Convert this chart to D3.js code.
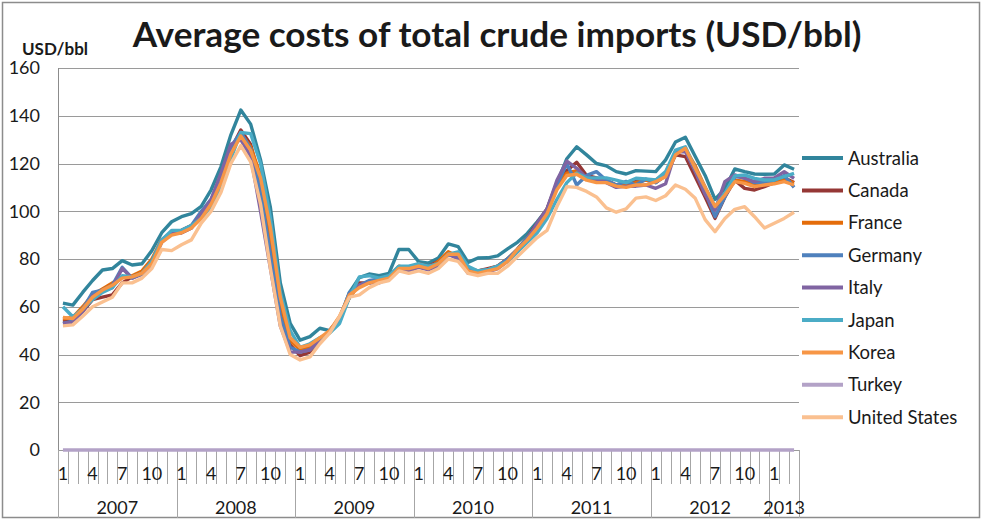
<!DOCTYPE html>
<html lang="en">
<head>
  <title>Average costs of total crude imports</title>
  <script src="https://d3js.org/d3.v7.min.js"></script>
  <style>
    body { margin: 0; background: #fff; }
    text { font-family: Lato, "Open Sans", sans-serif; fill: #1a1a1a; }
  </style>
</head>
<body>
<div id="chart"></div>
<script>
// months Jan 2007 .. Mar 2013
const years = ["2007", "2008", "2009", "2010", "2011", "2012", "2013"];
const monthsPerYear = [12, 12, 12, 12, 12, 12, 3];
const monthLabels = ["1", "4", "7", "10"];
const yTicks = [0, 20, 40, 60, 80, 100, 120, 140, 160];

const countries = ["Australia", "Canada", "France", "Germany", "Italy", "Japan", "Korea", "Turkey", "United States"];
const colors = ["#31859c", "#953735", "#e46c0a", "#4f81bd", "#8064a2", "#4bacc6", "#f79646", "#b3a2c7", "#fac090"];

const australia = [
  61.5, 60.7, 66, 71, 75.4, 76, 79.3, 77.5, 78, 83.5, 91, 95.6,
  97.7, 99, 102, 109, 118.7, 132, 142.4, 136.5, 121.5, 101.5, 70, 53,
  46, 47.5, 51, 50, 55, 66, 72.2, 73.7, 73, 74, 84, 84,
  78.9, 78.3, 80.4, 86.3, 85.2, 78.6, 80.4, 80.5, 81.3, 84.2, 87, 90.7,
  95.6, 100.8, 111.7, 122, 127, 123.6, 120, 119, 116.6, 115.6, 117, 116.8,
  116.6, 121.5, 129, 131, 122.9, 115, 105, 109.5, 117.7, 116.6, 115.6, 115.5,
  115.6, 119.4, 117.6];
const canada = [
  54, 54.5, 58, 63, 64, 65, 70, 72.5, 74, 79, 88, 91,
  91, 93, 98, 104, 114, 126, 134, 128, 112, 85, 58, 44,
  39.5, 41, 46, 50, 55, 64, 70, 70, 71, 73, 76, 76,
  78, 77, 79, 82, 81, 75, 75, 76, 77, 80, 84, 89,
  95, 101, 112, 117, 120.5, 115, 114, 113, 111, 112, 113, 113,
  112, 115, 123.6, 122.9, 114.5, 106, 97, 106, 113, 109.6, 108.9, 110.3,
  112, 114, 112];
const france = [
  55, 55.5, 60, 65, 67.5, 70, 72.5, 73, 75, 80, 88, 90.5,
  92, 94, 98, 104, 113, 125, 132.5, 127, 115, 90, 61, 46,
  42, 43, 46, 50, 55, 64, 69, 70, 71, 72.5, 77, 76,
  77.5, 76, 79, 83, 81, 76, 75, 75.5, 77, 80, 84, 89,
  94, 100, 111, 116, 117, 114, 113, 112.5, 111, 111, 112, 113,
  113, 116, 124.5, 126, 119, 110, 101, 107, 113, 112.5, 111, 111.5,
  112, 113, 112];
const germany = [
  53, 54, 59, 66, 67, 69, 76.5, 72, 74, 79, 88, 91,
  92, 94, 100, 105, 115, 127, 133, 126, 108, 82, 56, 43,
  41, 42, 46, 50, 55, 66, 69, 71, 71.5, 73, 76, 76,
  77, 76, 78, 82, 81, 76, 75, 75.5, 77, 80, 84, 89,
  94, 100, 111, 120, 111, 115, 116.6, 113, 111, 112.5, 111, 113.5,
  112, 115, 124.3, 126, 117, 108, 97.7, 106, 114.5, 114, 112, 112,
  113, 115, 110];
const italy = [
  53, 53.5, 58, 64.5, 66.5, 68, 76, 72, 73.5, 78, 87, 90.5,
  91, 93, 99, 105, 116, 128, 130, 123, 100, 76, 52, 41,
  41, 42, 46, 50, 55, 65, 69, 70, 70, 72, 75.5, 75,
  76.5, 75.5, 77, 82, 80, 74, 74, 74.5, 76, 79, 83, 88,
  95, 101, 113, 121, 118, 114, 113.5, 112, 110, 110.5, 110.5, 111,
  109.6, 111.5, 124.9, 125, 116.6, 107, 100.5, 112.4, 115.2, 113.8, 112.4, 113.8,
  114, 116.6, 113.8];
const japan = [
  60, 55.8, 59, 63, 66, 68, 73, 72.5, 74, 79, 88, 92,
  92, 94, 97, 102, 110, 122, 133, 132.5, 120, 97, 66, 50,
  43, 44.5, 47, 49, 53, 64, 72.5, 73, 72, 73, 77, 77,
  78, 77, 78, 82, 83, 77, 75, 75.5, 77, 79, 83, 87,
  91, 97, 105, 112, 116, 114, 114, 114, 113, 112, 113.8, 113.5,
  113.1, 116.6, 125.6, 127, 118, 110, 102, 107.5, 114.8, 115.2, 113.8, 113.1,
  113.1, 114.5, 115.9];
const korea = [
  55.5, 55.1, 59, 64, 67, 69, 72, 72.5, 74, 78, 87, 90,
  91, 93, 97, 103, 112, 124, 131.5, 125.5, 114, 93, 64, 47,
  43, 44, 47, 50, 56, 65, 68, 70, 71, 72, 76, 76,
  77, 76, 78, 82, 82, 75, 74, 75, 76, 79, 84, 88,
  93, 99, 109, 115, 115.5, 113, 112, 112, 110.5, 110, 111, 111,
  112.4, 114.5, 123.6, 126.4, 118, 110, 102, 106.8, 112.4, 111.7, 110.3, 111,
  111.5, 112.4, 111];
const turkey = [
  0, 0, 0, 0, 0, 0, 0, 0, 0, 0, 0, 0,
  0, 0, 0, 0, 0, 0, 0, 0, 0, 0, 0, 0,
  0, 0, 0, 0, 0, 0, 0, 0, 0, 0, 0, 0,
  0, 0, 0, 0, 0, 0, 0, 0, 0, 0, 0, 0,
  0, 0, 0, 0, 0, 0, 0, 0, 0, 0, 0, 0,
  0, 0, 0, 0, 0, 0, 0, 0, 0, 0, 0, 0,
  0, 0, 0];
const unitedStates = [
  52, 52.4, 56, 60, 62, 64, 70, 70, 72, 76, 84, 83.5,
  86, 88, 95, 100, 108, 120, 127.5, 120.7, 103, 76, 52, 40,
  37.7, 39, 44.5, 49, 56, 64, 65, 68, 70, 71, 75, 74,
  75, 74, 76, 80, 79, 74, 73, 74, 74, 77, 81, 85,
  89, 92, 102, 110.3, 110, 108.3, 106, 101.4, 99.6, 101, 105.5, 106,
  104.5, 106.5, 111, 109.2, 105.4, 96.5, 91.4, 97, 100.8, 101.9, 97.7, 93,
  95, 97, 99.6];

const seriesValues = [australia, canada, france, germany, italy, japan, korea, turkey, unitedStates];

// build month keys
const months = [];
years.forEach((yr, yi) => {
  for (let m = 1; m <= monthsPerYear[yi]; m++) months.push({year: yr, month: m, key: yr + "-" + m});
});

const W = 982, H = 519;
const margin = {top: 68, right: 183, bottom: 69, left: 58};
const width = W - margin.left - margin.right;
const height = H - margin.top - margin.bottom;

const svg = d3.select("#chart").append("svg")
  .attr("width", W).attr("height", H);

// outer frame
svg.append("rect")
  .attr("x", 2.5).attr("y", 2.5).attr("width", W - 5).attr("height", H - 4)
  .attr("fill", "none").attr("stroke", "#8c8c8c").attr("stroke-width", 1.5);

const g = svg.append("g").attr("transform", `translate(${margin.left},${margin.top})`);

const x = d3.scaleBand().domain(months.map(d => d.key)).range([0, width]).padding(0);
const y = d3.scaleLinear().domain([0, 160]).range([height, 0]);

// gridlines + y labels
g.selectAll(".grid").data(yTicks).enter().append("line")
  .attr("x1", 0).attr("x2", width)
  .attr("y1", d => Math.round(y(d)) + 0.5).attr("y2", d => Math.round(y(d)) + 0.5)
  .attr("stroke", "#9a9a9a").attr("stroke-width", 1);

g.selectAll(".ylab").data(yTicks).enter().append("text")
  .attr("x", -18).attr("y", d => y(d)).attr("dy", "0.36em")
  .attr("text-anchor", "end").style("font-size", "18px")
  .text(d => d);

// y axis line
g.append("line").attr("x1", 0.5).attr("x2", 0.5).attr("y1", 0).attr("y2", height)
  .attr("stroke", "#8c8c8c");

// month tick lines
const bounds = months.map(d => x(d.key)).concat([width]);
g.selectAll(".mtick").data(bounds).enter().append("line")
  .attr("x1", d => Math.round(d) + 0.5).attr("x2", d => Math.round(d) + 0.5)
  .attr("y1", height).attr("y2", height + 34)
  .attr("stroke", "#a6a6a6");

// year separators
let start = 0;
const yearSpans = years.map((yr, yi) => {
  const s = months[start].key, e = months[start + monthsPerYear[yi] - 1].key;
  start += monthsPerYear[yi];
  return {year: yr, x0: x(s), x1: x(e) + x.bandwidth()};
});
g.selectAll(".ysep").data([0].concat(yearSpans.map(d => d.x1))).enter().append("line")
  .attr("x1", d => Math.round(d) + 0.5).attr("x2", d => Math.round(d) + 0.5)
  .attr("y1", height).attr("y2", height + 68)
  .attr("stroke", "#a6a6a6");

g.selectAll(".mlab").data(months.filter(d => monthLabels.includes(String(d.month)))).enter().append("text")
  .attr("x", d => x(d.key) + x.bandwidth() / 2).attr("y", height + 30)
  .attr("text-anchor", "middle").style("font-size", "18px")
  .text(d => d.month);

g.selectAll(".ylab2").data(yearSpans).enter().append("text")
  .attr("x", d => (d.x0 + d.x1) / 2).attr("y", height + 64)
  .attr("text-anchor", "middle").style("font-size", "18px")
  .text(d => d.year);

// lines
const line = d3.line()
  .x((d, i) => x(months[i].key) + x.bandwidth() / 2)
  .y(d => y(d));

g.selectAll(".series").data(seriesValues).enter().append("path")
  .attr("d", d => line(d))
  .attr("fill", "none")
  .attr("stroke", (d, i) => colors[i])
  .attr("stroke-width", 3.4)
  .attr("stroke-linejoin", "round");

// legend
const legend = svg.append("g").attr("transform", "translate(802,158)");
const item = legend.selectAll(".leg").data(countries).enter().append("g")
  .attr("transform", (d, i) => `translate(0,${i * 32.4})`);
item.append("line").attr("x1", 0).attr("x2", 41).attr("y1", 0).attr("y2", 0)
  .attr("stroke", (d, i) => colors[i]).attr("stroke-width", 4);
item.append("text").attr("x", 46).attr("dy", "0.36em").style("font-size", "18.5px")
  .text(d => d);

// titles
const title = svg.append("text").attr("x", 497).attr("y", 47)
  .attr("text-anchor", "middle").style("font-size", "31px").style("font-weight", "bold")
  .text("Average costs of total crude imports (USD/bbl)");
const tw = title.node().getComputedTextLength();
title.style("font-size", (31 * 729 / tw) + "px");

svg.append("text").attr("x", 22).attr("y", 55)
  .style("font-size", "17px").style("font-weight", "bold")
  .text("USD/bbl");
</script>
</body>
</html>
